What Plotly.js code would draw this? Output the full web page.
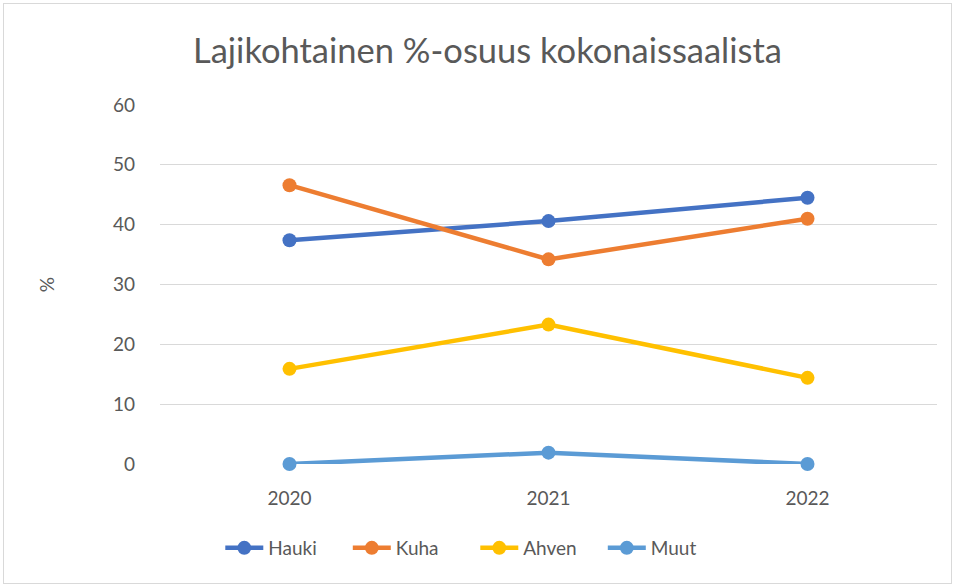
<!DOCTYPE html>
<html>
<head>
<meta charset="utf-8">
<script src="https://cdn.plot.ly/plotly-3.0.1.min.js"></script>
<style>
html,body{margin:0;padding:0;background:#fff;}
#wrap{position:relative;width:954px;height:586px;}
#chart{width:954px;height:586px;}
#frame{position:absolute;left:3px;top:3px;width:947px;height:579px;border:1px solid #d9d9d9;pointer-events:none;}
</style>
</head>
<body>
<div id="wrap"><div id="chart"></div><div id="frame"></div></div>
<script>
const years = ['2020', '2021', '2022'];
const hauki = [37.4, 40.6, 44.5];
const kuha = [46.6, 34.2, 41.0];
const ahven = [15.9, 23.3, 14.4];
const muut = [0, 1.9, 0];
const seriesNames = ['Hauki', 'Kuha', 'Ahven', 'Muut'];
const seriesColors = ['#4472C4', '#ED7D31', '#FFC000', '#5B9BD5'];
const seriesValues = [hauki, kuha, ahven, muut];

const traces = seriesValues.map((v, i) => ({
  type: 'scatter',
  mode: 'lines+markers',
  x: years,
  y: v,
  name: seriesNames[i],
  cliponaxis: false,
  line: {color: seriesColors[i], width: 4.5},
  marker: {color: seriesColors[i], size: 14}
}));

const font = 'Lato, Carlito, "Liberation Sans", sans-serif';
const layout = {
  width: 954, height: 586,
  paper_bgcolor: '#fff', plot_bgcolor: '#fff',
  margin: {l: 160, r: 17, t: 105, b: 122},
  title: {text: 'Lajikohtainen %-osuus kokonaissaalista', font: {family: font, size: 34.5, color: '#595959'}, x: 0.511, xanchor: 'center', y: 0.913, yanchor: 'middle'},
  font: {family: font, color: '#595959', size: 19},
  xaxis: {type: 'category', range: [-0.5, 2.5], showgrid: false, zeroline: false, showline: false, ticks: '', ticklabelstandoff: 21, tickfont: {size: 19, color: '#595959'}},
  yaxis: {range: [0, 60], dtick: 10, showgrid: true, gridcolor: '#d9d9d9', gridwidth: 1.3, zeroline: false, showline: false, ticks: '', ticklabelstandoff: 24, tickfont: {size: 19, color: '#595959'},
    title: {text: '%', font: {size: 19, color: '#595959'}, standoff: 53}},
  showlegend: true,
  legend: {orientation: 'h', x: 0.0776, xanchor: 'left', y: -0.234, yanchor: 'middle', font: {size: 19, color: '#595959'}, itemwidth: 38, entrywidth: 74.5, entrywidthmode: 'pixels', tracegroupgap: 0}
};
Plotly.newPlot('chart', traces, layout, {displayModeBar: false, staticPlot: true});
</script>
</body>
</html>
